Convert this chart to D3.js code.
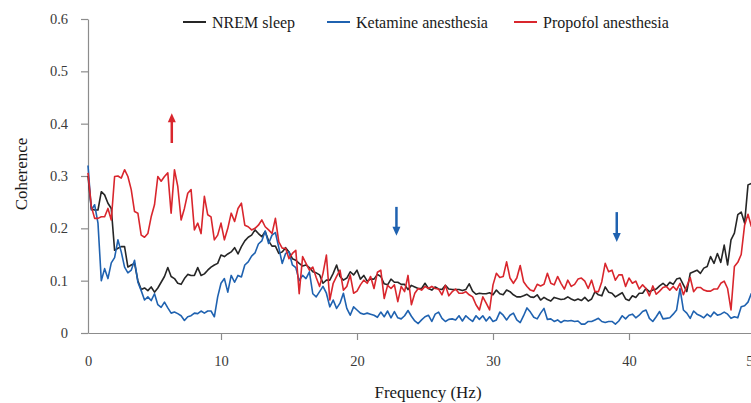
<!DOCTYPE html>
<html>
<head>
<meta charset="utf-8">
<script src="https://cdn.jsdelivr.net/npm/d3@7"></script>
<style>
    body { margin: 0; background: #fff; }
    svg { display: block; }
    svg text { font-family: "Liberation Serif", "Times New Roman", Tinos, "DejaVu Serif", "Noto Serif", serif; }
</style>
</head>
<body>
<svg id="chart" width="751" height="403"></svg>
<script>
'use strict';

// spectrum sampled every 0.25 Hz from 0 Hz
var freqStep = 0.25;

var nremSleep = [
    0.30, 0.237, 0.235, 0.235, 0.27, 0.264, 0.248, 0.238, 0.158, 0.162, 0.165, 0.165, 0.126, 0.13, 0.133, 0.10, 0.083, 0.086, 0.081, 0.088,
    0.078, 0.086, 0.097, 0.108, 0.125, 0.108, 0.104, 0.095, 0.093, 0.104, 0.112, 0.11, 0.11, 0.125, 0.11, 0.113, 0.12, 0.126, 0.13, 0.133,
    0.149, 0.146, 0.151, 0.155, 0.163, 0.151, 0.165, 0.176, 0.183, 0.187, 0.197, 0.19, 0.184, 0.194, 0.176, 0.166, 0.166, 0.152, 0.155, 0.163,
    0.155, 0.142, 0.139, 0.133, 0.128, 0.13, 0.125, 0.117, 0.115, 0.111, 0.095, 0.101, 0.101, 0.114, 0.13, 0.108, 0.101, 0.105, 0.117, 0.111,
    0.12, 0.103, 0.11, 0.099, 0.103, 0.103, 0.112, 0.108, 0.094, 0.092, 0.103, 0.097, 0.097, 0.093, 0.093, 0.083, 0.091, 0.088, 0.085, 0.085,
    0.095, 0.085, 0.082, 0.088, 0.084, 0.083, 0.091, 0.084, 0.083, 0.083, 0.083, 0.081, 0.083, 0.094, 0.08, 0.074, 0.076, 0.075, 0.075, 0.077,
    0.073, 0.082, 0.075, 0.073, 0.082, 0.079, 0.073, 0.069, 0.069, 0.071, 0.074, 0.069, 0.068, 0.073, 0.063, 0.068, 0.064, 0.061, 0.068, 0.066,
    0.064, 0.065, 0.069, 0.065, 0.062, 0.065, 0.062, 0.068, 0.061, 0.065, 0.079, 0.073, 0.071, 0.088, 0.078, 0.076, 0.069, 0.073, 0.077, 0.065,
    0.062, 0.071, 0.068, 0.076, 0.076, 0.085, 0.079, 0.082, 0.084, 0.09, 0.095, 0.089, 0.097, 0.093, 0.103, 0.105, 0.092, 0.079, 0.114, 0.117,
    0.12, 0.114, 0.124, 0.127, 0.146, 0.133, 0.152, 0.135, 0.168, 0.13, 0.178, 0.191, 0.226, 0.231, 0.21, 0.283, 0.286
];

var ketamine = [
    0.32, 0.235, 0.245, 0.21, 0.10, 0.123, 0.104, 0.134, 0.144, 0.178, 0.155, 0.126, 0.115, 0.12, 0.139, 0.097, 0.081, 0.063, 0.069, 0.062,
    0.075, 0.054, 0.049, 0.059, 0.048, 0.038, 0.04, 0.037, 0.033, 0.024, 0.031, 0.033, 0.038, 0.037, 0.042, 0.038, 0.042, 0.042, 0.031, 0.069,
    0.095, 0.104, 0.078, 0.11, 0.097, 0.11, 0.107, 0.13, 0.136, 0.147, 0.153, 0.17, 0.176, 0.195, 0.171, 0.187, 0.192, 0.163, 0.133, 0.152,
    0.155, 0.13, 0.125, 0.10, 0.11, 0.104, 0.117, 0.075, 0.069, 0.079, 0.089, 0.076, 0.05, 0.063, 0.047, 0.057, 0.076, 0.047, 0.034, 0.05,
    0.044, 0.038, 0.036, 0.038, 0.036, 0.034, 0.03, 0.04, 0.031, 0.042, 0.029, 0.041, 0.029, 0.027, 0.033, 0.043, 0.032, 0.023, 0.018, 0.025,
    0.031, 0.034, 0.022, 0.036, 0.04, 0.028, 0.022, 0.026, 0.027, 0.025, 0.033, 0.023, 0.033, 0.027, 0.022, 0.033, 0.026, 0.033, 0.023, 0.031,
    0.022, 0.025, 0.04, 0.034, 0.025, 0.034, 0.038, 0.025, 0.02, 0.033, 0.048, 0.04, 0.03, 0.027, 0.038, 0.047, 0.026, 0.027, 0.022, 0.025,
    0.02, 0.024, 0.023, 0.024, 0.022, 0.023, 0.017, 0.017, 0.022, 0.022, 0.025, 0.028, 0.022, 0.02, 0.022, 0.022, 0.017, 0.023, 0.033, 0.027,
    0.034, 0.036, 0.029, 0.034, 0.041, 0.044, 0.028, 0.022, 0.031, 0.041, 0.027, 0.028, 0.029, 0.036, 0.044, 0.085, 0.044, 0.038, 0.028, 0.042,
    0.036, 0.033, 0.029, 0.036, 0.031, 0.04, 0.034, 0.036, 0.04, 0.036, 0.028, 0.031, 0.029, 0.05, 0.052, 0.059, 0.076
];

var propofol = [
    0.306, 0.242, 0.219, 0.219, 0.222, 0.222, 0.238, 0.216, 0.299, 0.30, 0.296, 0.312, 0.299, 0.274, 0.232, 0.229, 0.187, 0.183, 0.19, 0.222,
    0.245, 0.299, 0.29, 0.299, 0.306, 0.229, 0.312, 0.28, 0.216, 0.238, 0.267, 0.274, 0.197, 0.21, 0.19, 0.261, 0.226, 0.222, 0.178, 0.187,
    0.21, 0.178, 0.20, 0.229, 0.213, 0.238, 0.248, 0.206, 0.203, 0.197, 0.20, 0.206, 0.216, 0.203, 0.197, 0.19, 0.219, 0.174, 0.162, 0.162,
    0.142, 0.152, 0.158, 0.075, 0.146, 0.133, 0.12, 0.126, 0.106, 0.089, 0.114, 0.149, 0.063, 0.095, 0.108, 0.12, 0.082, 0.089, 0.111, 0.076,
    0.08, 0.092, 0.101, 0.095, 0.108, 0.085, 0.116, 0.12, 0.066, 0.091, 0.085, 0.092, 0.06, 0.089, 0.079, 0.11, 0.054, 0.076, 0.085, 0.082,
    0.089, 0.085, 0.089, 0.085, 0.084, 0.073, 0.091, 0.071, 0.079, 0.084, 0.076, 0.076, 0.079, 0.073, 0.069, 0.054, 0.044, 0.069, 0.057, 0.044,
    0.092, 0.114, 0.106, 0.108, 0.136, 0.105, 0.095, 0.105, 0.129, 0.098, 0.089, 0.082, 0.08, 0.093, 0.09, 0.093, 0.114, 0.095, 0.092, 0.108,
    0.095, 0.084, 0.101, 0.089, 0.093, 0.103, 0.105, 0.099, 0.085, 0.101, 0.079, 0.079, 0.098, 0.133, 0.117, 0.12, 0.101, 0.111, 0.111, 0.089,
    0.105, 0.095, 0.099, 0.084, 0.092, 0.085, 0.071, 0.09, 0.074, 0.08, 0.087, 0.089, 0.082, 0.089, 0.082, 0.095, 0.073, 0.089, 0.106, 0.079,
    0.087, 0.087, 0.082, 0.08, 0.08, 0.084, 0.084, 0.095, 0.099, 0.085, 0.044, 0.127, 0.135, 0.15, 0.206, 0.227, 0.203
];

var seriesNames = ['NREM sleep', 'Ketamine anesthesia', 'Propofol anesthesia'];
var xTicks = [0, 10, 20, 30, 40, 50];
var yTicks = [0, 0.1, 0.2, 0.3, 0.4, 0.5, 0.6];

// arrows: frequency, tail value, tip value
var arrowFreqs = [6.3, 22.9, 39.1];
var arrowTails = [0.363, 0.241, 0.231];
var arrowTips = [0.42, 0.186, 0.174];

var colors = ['#262626', '#1f62b0', '#d9262d'];
var arrowColors = ['#d9262d', '#1f62b0', '#1f62b0'];
var axisColor = '#8c8c8c';

var svg = d3.select('#chart');

// the 0-10 interval is drawn a little narrower than the others
var x = d3.scaleLinear()
    .domain([0, 10, 50])
    .range([88, 221, 765]);
var y = d3.scaleLinear()
    .domain([0, 0.6])
    .range([333, 19]);

var yAxis = d3.axisLeft(y)
    .tickValues(yTicks)
    .tickSize(7)
    .tickSizeOuter(0)
    .tickPadding(13)
    .tickFormat(function(d) { return d === 0 ? '0' : d3.format('.1f')(d); });
var xAxis = d3.axisBottom(x)
    .tickValues(xTicks)
    .tickSize(7)
    .tickSizeOuter(0)
    .tickPadding(16)
    .tickFormat(d3.format('d'));

var yAxisEle = svg.append('g')
    .attr('transform', 'translate(' + x(0) + ',0)')
    .call(yAxis);
var xAxisEle = svg.append('g')
    .attr('transform', 'translate(0,' + y(0) + ')')
    .call(xAxis);

[yAxisEle, xAxisEle].forEach(function(ax) {
    ax.attr('font-family', null).attr('font-size', null);
    ax.select('.domain').attr('stroke', axisColor).attr('stroke-width', 1.2);
    ax.selectAll('.tick line').attr('stroke', axisColor).attr('stroke-width', 1.2);
    ax.selectAll('.tick text')
        .attr('fill', '#3a3a3a')
        .style('font-size', '14.5px');
});
xAxisEle.selectAll('.tick line').filter(function(d) { return d === 0; }).remove();
// last label is pushed inward at the chart edge
xAxisEle.selectAll('.tick text').filter(function(d) { return d === 50; }).attr('dx', '-12');

var line = d3.line()
    .x(function(d, i) { return x(i * freqStep); })
    .y(function(d) { return y(d); });

svg.append('g')
    .selectAll('path')
    .data([nremSleep, ketamine, propofol])
    .enter()
    .append('path')
    .attr('d', line)
    .attr('fill', 'none')
    .attr('stroke', function(d, i) { return colors[i]; })
    .attr('stroke-width', 1.6)
    .attr('stroke-linejoin', 'round');

// arrows
var arrows = svg.append('g');
arrowFreqs.forEach(function(f, i) {
    var ax = x(f);
    var tail = y(arrowTails[i]);
    var tip = y(arrowTips[i]);
    var dir = tip < tail ? -1 : 1;
    arrows.append('line')
        .attr('x1', ax).attr('x2', ax)
        .attr('y1', tail).attr('y2', tip - dir * 8)
        .attr('stroke', arrowColors[i])
        .attr('stroke-width', 2.5);
    arrows.append('path')
        .attr('d', 'M' + (ax - 4) + ',' + (tip - dir * 9) + 'L' + (ax + 4) + ',' + (tip - dir * 9) + 'L' + ax + ',' + tip + 'Z')
        .attr('fill', arrowColors[i]);
});

// legend
var legendX = [183, 327, 514];
var legend = svg.append('g');
seriesNames.forEach(function(name, i) {
    legend.append('line')
        .attr('x1', legendX[i]).attr('x2', legendX[i] + 23)
        .attr('y1', 22).attr('y2', 22)
        .attr('stroke', colors[i])
        .attr('stroke-width', 2);
    legend.append('text')
        .attr('x', legendX[i] + 29)
        .attr('y', 28)
        .attr('fill', '#1a1a1a')
        .style('font-size', '16px')
        .text(name);
});

// axis titles
svg.append('text')
    .attr('transform', 'translate(27,174) rotate(-90)')
    .attr('text-anchor', 'middle')
    .attr('fill', '#1a1a1a')
    .style('font-size', '17px')
    .text('Coherence');
svg.append('text')
    .attr('x', 428)
    .attr('y', 398)
    .attr('text-anchor', 'middle')
    .attr('fill', '#1a1a1a')
    .style('font-size', '17px')
    .text('Frequency (Hz)');
</script>
</body>
</html>
